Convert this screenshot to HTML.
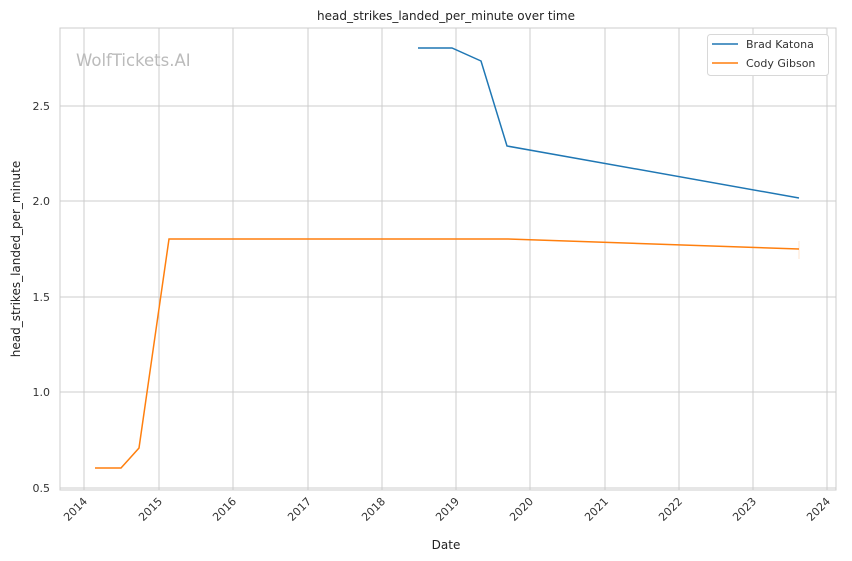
<!DOCTYPE html>
<html><head><style>
body{margin:0;background:#fff;}
svg{display:block;font-family:"DejaVu Sans","Liberation Sans",sans-serif;}
</style></head><body>
<svg width="852" height="561" xmlns="http://www.w3.org/2000/svg">
<rect width="852" height="561" fill="#fff"/>
<g stroke="#cccccc" stroke-width="1">
<line x1="84" y1="28" x2="84" y2="490"/><line x1="159" y1="28" x2="159" y2="490"/>
<line x1="233" y1="28" x2="233" y2="490"/><line x1="308" y1="28" x2="308" y2="490"/>
<line x1="382" y1="28" x2="382" y2="490"/><line x1="456" y1="28" x2="456" y2="490"/>
<line x1="530" y1="28" x2="530" y2="490"/><line x1="605" y1="28" x2="605" y2="490"/>
<line x1="679" y1="28" x2="679" y2="490"/><line x1="753" y1="28" x2="753" y2="490"/>
<line x1="827" y1="28" x2="827" y2="490"/>
<line x1="60" y1="488" x2="836" y2="488"/><line x1="60" y1="392" x2="836" y2="392"/>
<line x1="60" y1="297" x2="836" y2="297"/><line x1="60" y1="201" x2="836" y2="201"/>
<line x1="60" y1="106" x2="836" y2="106"/>
<rect x="60" y="28" width="776" height="462" fill="none"/>
</g>
<text x="76" y="66" font-size="16.5" fill="#bbbbbb">WolfTickets.AI</text>
<polyline fill="none" stroke="#1f77b4" stroke-width="1.5" points="418,48 452,48 481,61 507,146 799,198"/>
<polyline fill="none" stroke="#ff7f0e" stroke-width="1.5" points="95,468 121,468 139,448 169,239 508,239 799,249"/>
<line x1="799" y1="241" x2="799" y2="259" stroke="#ff7f0e" stroke-opacity="0.2"/>
<g font-size="11" fill="#333" text-anchor="end">
<text x="50" y="492">0.5</text><text x="50" y="396">1.0</text><text x="50" y="301">1.5</text>
<text x="50" y="205">2.0</text><text x="50" y="110">2.5</text>
</g>
<g font-size="11" fill="#333" text-anchor="end">
<text transform="translate(88,502) rotate(-45)">2014</text>
<text transform="translate(163,502) rotate(-45)">2015</text>
<text transform="translate(237,502) rotate(-45)">2016</text>
<text transform="translate(312,502) rotate(-45)">2017</text>
<text transform="translate(386,502) rotate(-45)">2018</text>
<text transform="translate(460,502) rotate(-45)">2019</text>
<text transform="translate(534,502) rotate(-45)">2020</text>
<text transform="translate(609,502) rotate(-45)">2021</text>
<text transform="translate(683,502) rotate(-45)">2022</text>
<text transform="translate(757,502) rotate(-45)">2023</text>
<text transform="translate(831,502) rotate(-45)">2024</text>
</g>
<text x="446" y="549" font-size="12" fill="#222" text-anchor="middle">Date</text>
<text transform="translate(20,259) rotate(-90)" font-size="12" fill="#222" text-anchor="middle">head_strikes_landed_per_minute</text>
<text x="446" y="20" font-size="12" fill="#222" text-anchor="middle">head_strikes_landed_per_minute over time</text>
<rect x="707.5" y="34.5" width="121" height="41" rx="3" fill="#fff" stroke="#d8d8d8"/>
<line x1="712" y1="44" x2="738" y2="44" stroke="#1f77b4" stroke-width="1.5"/>
<line x1="712" y1="63" x2="738" y2="63" stroke="#ff7f0e" stroke-width="1.5"/>
<g font-size="11" fill="#333"><text x="746" y="48">Brad Katona</text><text x="746" y="67">Cody Gibson</text></g>
</svg>
</body></html>
